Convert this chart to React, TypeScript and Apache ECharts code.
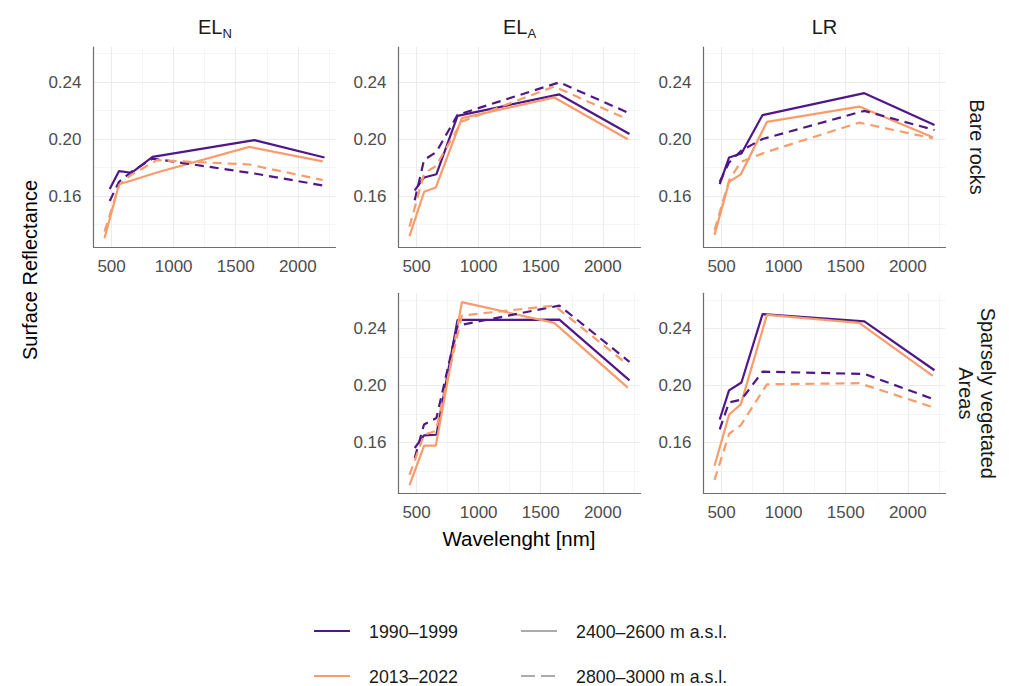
import React, { useEffect, useRef } from "react";
import * as echarts from "echarts";

// Band centre wavelengths (nm)
const WL_1990 = [485, 560, 660, 830, 1650, 2215];
const WL_2013 = [443, 561, 655, 865, 1609, 2201];

// Column labels and row labels
const COLUMNS = ["EL|N", "EL|A", "LR"];
const ROWS = ["Bare rocks", "Sparsely vegetated\nAreas"];

// Axis breaks
const X_BREAKS = [500, 1000, 1500, 2000];
const X_MINOR = [750, 1250, 1750, 2250];
const Y_BREAKS = [0.16, 0.2, 0.24];
const Y_MINOR = [0.14, 0.18, 0.22, 0.26];

// Legend labels
const PERIODS = ["1990–1999", "2013–2022"];
const ELEVATIONS = ["2400–2600 m a.s.l.", "2800–3000 m a.s.l."];

// EL_N – Bare rocks
const ELN_BARE_1990_LOW = [0.1649, 0.1775, 0.1763, 0.1875, 0.1992, 0.187];
const ELN_BARE_2013_LOW = [0.1304, 0.1684, 0.1707, 0.1765, 0.1945, 0.1843];
const ELN_BARE_1990_HIGH = [0.1565, 0.17, 0.177, 0.1863, 0.1758, 0.1672];
const ELN_BARE_2013_HIGH = [0.135, 0.1677, 0.1747, 0.1852, 0.1821, 0.1712];

// EL_A – Bare rocks
const ELA_BARE_1990_LOW = [0.164, 0.173, 0.1753, 0.2163, 0.2313, 0.2035];
const ELA_BARE_2013_LOW = [0.1318, 0.163, 0.166, 0.2147, 0.2292, 0.1998];
const ELA_BARE_1990_HIGH = [0.157, 0.1853, 0.191, 0.217, 0.2398, 0.218];
const ELA_BARE_2013_HIGH = [0.1384, 0.176, 0.181, 0.2123, 0.2369, 0.2138];

// LR – Bare rocks
const LR_BARE_1990_LOW = [0.1684, 0.187, 0.1898, 0.2168, 0.2322, 0.2099];
const LR_BARE_2013_LOW = [0.1327, 0.17, 0.1752, 0.212, 0.2228, 0.2012];
const LR_BARE_1990_HIGH = [0.17, 0.1835, 0.192, 0.2, 0.2198, 0.2063];
const LR_BARE_2013_HIGH = [0.136, 0.171, 0.184, 0.191, 0.2115, 0.2005];

// EL_A – Sparsely vegetated areas
const ELA_VEG_1990_LOW = [0.156, 0.1648, 0.1653, 0.2459, 0.2461, 0.2035];
const ELA_VEG_2013_LOW = [0.13, 0.1576, 0.1576, 0.2584, 0.2438, 0.1984];
const ELA_VEG_1990_HIGH = [0.149, 0.1725, 0.177, 0.2419, 0.256, 0.2165];
const ELA_VEG_2013_HIGH = [0.1372, 0.1654, 0.168, 0.249, 0.256, 0.2145];

// LR – Sparsely vegetated areas
const LR_VEG_1990_LOW = [0.176, 0.1965, 0.202, 0.25, 0.2449, 0.2106];
const LR_VEG_2013_LOW = [0.1435, 0.1795, 0.1866, 0.2494, 0.2438, 0.2066];
const LR_VEG_1990_HIGH = [0.169, 0.188, 0.19, 0.2096, 0.208, 0.19];
const LR_VEG_2013_HIGH = [0.1336, 0.166, 0.172, 0.2007, 0.2015, 0.1847];

const PURPLE = "#4f1787";
const ORANGE = "#f89c6b";
const GRAY_LEG = "#ababab";
const FONT = "'Liberation Sans', Arial, sans-serif";

const X_MIN = 354.4;
const X_MAX = 2303.6;
const Y_MIN = 0.1242;
const Y_MAX = 0.2646;

const PANELS = [
  { col: 0, row: 0, sets: [ELN_BARE_1990_LOW, ELN_BARE_2013_LOW, ELN_BARE_1990_HIGH, ELN_BARE_2013_HIGH] },
  { col: 1, row: 0, sets: [ELA_BARE_1990_LOW, ELA_BARE_2013_LOW, ELA_BARE_1990_HIGH, ELA_BARE_2013_HIGH] },
  { col: 2, row: 0, sets: [LR_BARE_1990_LOW, LR_BARE_2013_LOW, LR_BARE_1990_HIGH, LR_BARE_2013_HIGH] },
  { col: 1, row: 1, sets: [ELA_VEG_1990_LOW, ELA_VEG_2013_LOW, ELA_VEG_1990_HIGH, ELA_VEG_2013_HIGH] },
  { col: 2, row: 1, sets: [LR_VEG_1990_LOW, LR_VEG_2013_LOW, LR_VEG_1990_HIGH, LR_VEG_2013_HIGH] },
];

const COL_LEFT = [93.5, 398.5, 703.5];
const PANEL_W = 242;
const ROW_TOP = [47, 293.3];
const PANEL_H = 200;

function buildOption() {
  const grid: any[] = [];
  const xAxis: any[] = [];
  const yAxis: any[] = [];
  const series: any[] = [];
  PANELS.forEach((p, i) => {
    grid.push({ left: COL_LEFT[p.col], top: ROW_TOP[p.row], width: PANEL_W, height: PANEL_H, containLabel: false });
    xAxis.push({
      type: "value", gridIndex: i, min: X_MIN, max: X_MAX,
      axisLine: { show: true, onZero: false, lineStyle: { color: "#6e6e6e", width: 1.2 } },
      axisTick: { show: false, customValues: X_BREAKS },
      axisLabel: { customValues: X_BREAKS, color: "#4d4d4d", fontSize: 17, fontFamily: FONT, margin: 11, formatter: (v: number) => String(Math.round(v)) },
      splitLine: { show: true, lineStyle: { color: "#ebebeb", width: 1 } },
      z: 3,
    });
    xAxis.push({
      type: "value", gridIndex: i, min: X_MIN, max: X_MAX,
      axisLine: { show: false }, axisTick: { show: false, customValues: X_MINOR },
      axisLabel: { show: false },
      splitLine: { show: true, lineStyle: { color: "#f0f0f0", width: 0.7 } },
      z: 1,
    });
    yAxis.push({
      type: "value", gridIndex: i, min: Y_MIN, max: Y_MAX,
      axisLine: { show: true, onZero: false, lineStyle: { color: "#6e6e6e", width: 1.2 } },
      axisTick: { show: false, customValues: Y_BREAKS },
      axisLabel: { customValues: Y_BREAKS, color: "#4d4d4d", fontSize: 17, fontFamily: FONT, margin: 12, formatter: (v: number) => v.toFixed(2) },
      splitLine: { show: true, lineStyle: { color: "#ebebeb", width: 1 } },
      z: 3,
    });
    yAxis.push({
      type: "value", gridIndex: i, min: Y_MIN, max: Y_MAX,
      axisLine: { show: false }, axisTick: { show: false, customValues: Y_MINOR },
      axisLabel: { show: false },
      splitLine: { show: true, lineStyle: { color: "#f0f0f0", width: 0.7 } },
      z: 1,
    });
    const styles = [
      { wl: WL_1990, color: PURPLE, dash: "solid" },
      { wl: WL_2013, color: ORANGE, dash: "solid" },
      { wl: WL_1990, color: PURPLE, dash: [9, 6] },
      { wl: WL_2013, color: ORANGE, dash: [9, 6] },
    ];
    p.sets.forEach((vals, k) => {
      const st = styles[k];
      series.push({
        type: "line",
        xAxisIndex: 2 * i,
        yAxisIndex: 2 * i,
        data: vals.map((v, j) => [st.wl[j], v]),
        showSymbol: false,
        symbol: "none",
        lineStyle: { color: st.color, width: 2.2, type: st.dash as any },
        z: 5,
      });
    });
  });

  const graphic: any[] = [];
  COLUMNS.forEach((c, ci) => {
    const cx = COL_LEFT[ci] + PANEL_W / 2;
    const [main, sub] = c.split("|");
    if (sub) {
      graphic.push({ type: "text", x: cx + 8, y: 27, style: { text: main, align: "right", verticalAlign: "middle", fontSize: 20, fontFamily: FONT, fill: "#1a1a1a" } });
      graphic.push({ type: "text", x: cx + 8, y: 33, style: { text: sub, align: "left", verticalAlign: "middle", fontSize: 13, fontFamily: FONT, fill: "#1a1a1a" } });
    } else {
      graphic.push({ type: "text", x: cx, y: 27, style: { text: main, align: "center", verticalAlign: "middle", fontSize: 20, fontFamily: FONT, fill: "#1a1a1a" } });
    }
  });
  ROWS.forEach((r, ri) => {
    graphic.push({
      type: "text", x: 977, y: ROW_TOP[ri] + PANEL_H / 2, rotation: -Math.PI / 2,
      style: { text: r, align: "center", verticalAlign: "middle", fontSize: 20, lineHeight: 22, fontFamily: FONT, fill: "#1a1a1a" },
    });
  });
  graphic.push({
    type: "text", x: 30, y: 270, rotation: Math.PI / 2,
    style: { text: "Surface Reflectance", align: "center", verticalAlign: "middle", fontSize: 20, fontFamily: FONT, fill: "#000" },
  });
  graphic.push({
    type: "text", x: 519, y: 538,
    style: { text: "Wavelenght [nm]", align: "center", verticalAlign: "middle", fontSize: 20.5, fontFamily: FONT, fill: "#000" },
  });
  const legY = [631, 676];
  PERIODS.forEach((t, i) => {
    graphic.push({ type: "line", shape: { x1: 314, y1: legY[i], x2: 350, y2: legY[i] }, style: { stroke: i === 0 ? PURPLE : ORANGE, lineWidth: 2.2 } });
    graphic.push({ type: "text", x: 369, y: legY[i] + 1, style: { text: t, align: "left", verticalAlign: "middle", fontSize: 17.8, fontFamily: FONT, fill: "#1a1a1a" } });
  });
  ELEVATIONS.forEach((t, i) => {
    graphic.push({ type: "line", shape: { x1: 521, y1: legY[i], x2: 557, y2: legY[i] }, style: { stroke: GRAY_LEG, lineWidth: 2.2, lineDash: i === 0 ? null : [14, 6] } });
    graphic.push({ type: "text", x: 576, y: legY[i] + 1, style: { text: t, align: "left", verticalAlign: "middle", fontSize: 17.8, fontFamily: FONT, fill: "#1a1a1a" } });
  });

  return { animation: false, backgroundColor: "#ffffff", grid, xAxis, yAxis, series, graphic };
}

export default function App() {
  const ref = useRef<HTMLDivElement>(null);
  useEffect(() => {
    if (!ref.current) return;
    const chart = echarts.init(ref.current, undefined, { renderer: "svg" });
    chart.setOption(buildOption() as any);
    return () => chart.dispose();
  }, []);
  return <div ref={ref} style={{ position: "fixed", left: 0, top: 0, width: 1009, height: 686, background: "#fff" }} />;
}
